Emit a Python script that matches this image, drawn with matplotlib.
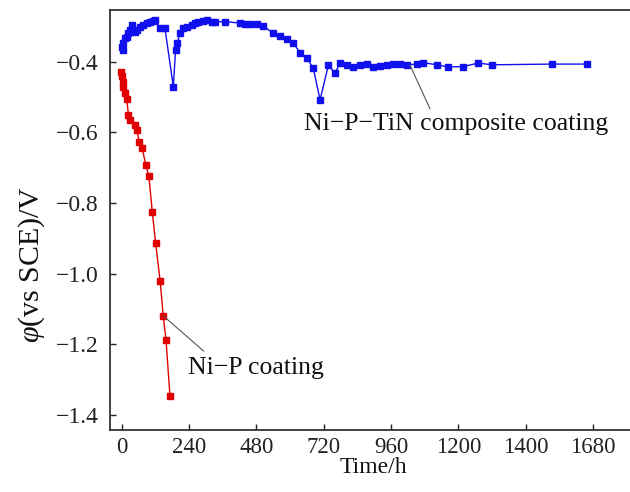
import matplotlib
matplotlib.use("Agg")
import matplotlib.pyplot as plt

plt.rcParams['font.family'] = ['Liberation Serif', 'DejaVu Serif']
plt.rcParams['mathtext.fontset'] = 'custom'
plt.rcParams['mathtext.rm'] = 'Liberation Serif'
plt.rcParams['mathtext.it'] = 'Liberation Serif:italic'

# Ni-P-TiN composite coating
tin_t = [0, 3, 6, 12, 18, 24, 30, 36, 47, 53, 65, 77, 89, 101, 113, 119, 137, 154,
         184, 192, 198, 208, 220, 234, 250, 261, 273, 291, 303, 321, 333, 368,
         422, 440, 458, 481, 505, 540, 564, 588, 612, 636, 660, 683, 707, 737,
         760, 778, 802, 826, 850, 873, 897, 921, 945, 968, 992, 1016, 1052,
         1075, 1123, 1164, 1218, 1271, 1319, 1533, 1658]
tin_v = [-0.358, -0.367, -0.348, -0.334, -0.329, -0.320, -0.310, -0.296, -0.315,
         -0.310, -0.301, -0.296, -0.291, -0.287, -0.284, -0.282, -0.305, -0.305,
         -0.471, -0.367, -0.348, -0.320, -0.305, -0.301, -0.296, -0.291, -0.287,
         -0.284, -0.282, -0.287, -0.287, -0.287, -0.291, -0.293, -0.293, -0.293,
         -0.299, -0.320, -0.327, -0.337, -0.348, -0.375, -0.390, -0.419, -0.508,
         -0.409, -0.433, -0.405, -0.409, -0.414, -0.409, -0.407, -0.414, -0.411,
         -0.409, -0.407, -0.407, -0.409, -0.407, -0.403, -0.409, -0.415, -0.414,
         -0.404, -0.409, -0.407, -0.407]

# Ni-P coating
nip_t = [-3, 0, 4, 6, 12, 18, 24, 30, 47, 53, 63, 73, 86, 97, 109, 121, 137, 148, 158, 172]
nip_v = [-0.428, -0.442, -0.457, -0.471, -0.489, -0.505, -0.551, -0.565, -0.579,
         -0.594, -0.626, -0.645, -0.692, -0.724, -0.825, -0.914, -1.020, -1.119,
         -1.188, -1.346]

xticks = [0, 240, 480, 720, 960, 1200, 1440, 1680]
xticklabels = ['0', '240', '480', '720', '960', '1200', '1400', '1680']
yticks = [-1.4, -1.2, -1.0, -0.8, -0.6, -0.4]
yticklabels = ['\u22121.4', '\u22121.2', '\u22121.0', '\u22120.8', '\u22120.6', '\u22120.4']

fig = plt.figure(figsize=(6.3, 4.92), dpi=100)
ax = fig.add_axes([110/630, 1 - 430/492, (636 - 110)/630, (430 - 10)/492])

ax.plot(tin_t, tin_v, color='#1010ee', lw=1.0, marker='s', ms=4.2, mec='#1010ee', mfc='#1010ee')
ax.plot(nip_t, nip_v, color='#e00000', lw=1.0, marker='s', ms=4.2, mec='#e00000', mfc='#e00000')

ax.set_xlim(-41.7, 1833)
ax.set_ylim(-1.442, -0.254)
ax.set_xticks(xticks)
ax.set_xticklabels(xticklabels)
ax.set_yticks(yticks)
ax.set_yticklabels(yticklabels)
ax.tick_params(axis='x', direction='in', length=4, width=1, labelsize=16.5, pad=5, colors='#222222')
ax.tick_params(axis='y', direction='in', length=4, width=1, labelsize=17, pad=8, colors='#222222')
ax.spines['right'].set_visible(False)
for s in ['left', 'bottom', 'top']:
    ax.spines[s].set_linewidth(1.3)
    ax.spines[s].set_color('#333333')

ax.set_xlabel('Time/h', fontsize=17, labelpad=-1, color='#111111')
ax.set_ylabel(r'$\varphi$(vs SCE)/V', fontsize=21.5, color='#111111')
ax.yaxis.set_label_coords(-0.12, 0.393)

# annotations
ax.annotate('Ni\u2212P\u2212TiN composite coating', xy=(1027, -0.409), xytext=(1192, -0.576),
            fontsize=18.5, ha='center', va='center', color='#111111',
            arrowprops=dict(arrowstyle='-', color='#555555', lw=0.8, shrinkA=1, shrinkB=0,
                            relpos=(0.42, 1.0)))
ax.annotate('Ni\u2212P coating', xy=(148, -1.119), xytext=(480, -1.266),
            fontsize=18.5, ha='center', va='center', color='#111111',
            arrowprops=dict(arrowstyle='-', color='#555555', lw=0.8, shrinkA=3, shrinkB=0,
                            relpos=(0.16, 1.0)))

fig.savefig('out.png', dpi=100)
